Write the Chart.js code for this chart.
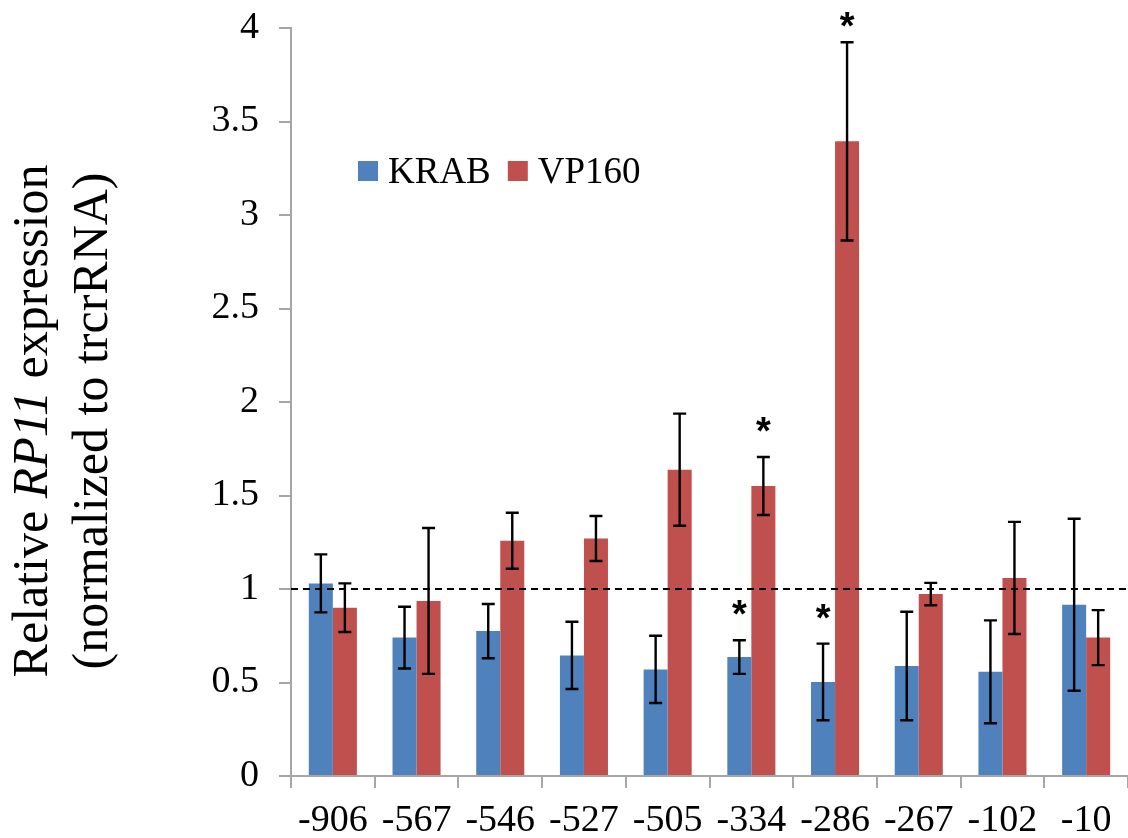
<!DOCTYPE html>
<html>
<head>
<meta charset="utf-8">
<script src="https://cdn.jsdelivr.net/npm/chart.js"></script>
<style>
  html, body { margin: 0; padding: 0; background: #fff; }
</style>
</head>
<body>
<canvas id="myChart" width="1128" height="838"></canvas>
<script>
// positions relative to TSS
const positions = ['-906', '-567', '-546', '-527', '-505', '-334', '-286', '-267', '-102', '-10'];
const krab = [1.03, 0.74, 0.775, 0.645, 0.57, 0.636, 0.503, 0.588, 0.557, 0.916];
const krabErr = [0.155, 0.165, 0.145, 0.18, 0.18, 0.09, 0.205, 0.29, 0.275, 0.46];
const vp160 = [0.90, 0.936, 1.258, 1.27, 1.638, 1.551, 3.394, 0.973, 1.059, 0.74];
const vp160Err = [0.13, 0.39, 0.15, 0.12, 0.30, 0.155, 0.53, 0.06, 0.30, 0.147];
const krabSig = [false, false, false, false, false, true, true, false, false, false];
const vp160Sig = [false, false, false, false, false, true, true, false, false, false];
const yTicks = [0, 0.5, 1, 1.5, 2, 2.5, 3, 3.5, 4];
const baseline = 1;

const blue = '#4F81BD';
const red = '#C0504D';
const axisGray = '#a6a6a6';
const serif = "'Liberation Serif', 'Times New Roman', serif";

const extras = {
    id: 'extras',
    afterDatasetsDraw(chart) {
        const ctx = chart.ctx;
        const y = chart.scales.y;
        const area = chart.chartArea;
        ctx.save();

        // dashed reference line
        ctx.strokeStyle = '#000';
        ctx.lineWidth = 2.2;
        ctx.setLineDash([7, 5]);
        ctx.beginPath();
        ctx.moveTo(area.left, y.getPixelForValue(baseline));
        ctx.lineTo(area.right, y.getPixelForValue(baseline));
        ctx.stroke();
        ctx.setLineDash([]);

        // error bars + asterisks
        const errs = [krabErr, vp160Err];
        const sigs = [krabSig, vp160Sig];
        ctx.lineWidth = 2.4;
        chart.data.datasets.forEach((ds, i) => {
            const meta = chart.getDatasetMeta(i);
            meta.data.forEach((bar, j) => {
                const v = ds.data[j], e = errs[i][j];
                const top = y.getPixelForValue(v + e);
                const bot = y.getPixelForValue(v - e);
                ctx.beginPath();
                ctx.moveTo(bar.x, top); ctx.lineTo(bar.x, bot);
                ctx.moveTo(bar.x - 6.5, top); ctx.lineTo(bar.x + 6.5, top);
                ctx.moveTo(bar.x - 6.5, bot); ctx.lineTo(bar.x + 6.5, bot);
                ctx.stroke();
                if (sigs[i][j]) {
                    ctx.fillStyle = '#000';
                    ctx.font = "bold 38px 'Liberation Sans', Arial, sans-serif";
                    ctx.textAlign = 'center';
                    ctx.textBaseline = 'alphabetic';
                    const cy = Math.max(top - 35, 17);
                    ctx.fillText('*', bar.x, cy + 22);
                }
            });
        });

        // legend
        let lx = area.left + 67;
        ctx.font = '37px ' + serif;
        ctx.textAlign = 'left';
        ctx.textBaseline = 'alphabetic';
        chart.data.datasets.forEach(ds => {
            ctx.fillStyle = ds.backgroundColor;
            ctx.fillRect(lx, 161, 20, 20);
            ctx.fillStyle = '#000';
            ctx.fillText(ds.label, lx + 30, 183);
            lx += 30 + ctx.measureText(ds.label).width + 17;
        });

        // y axis title (with italic gene name)
        const cy = 421;
        const size = 50;
        const parts = [['Relative ', 'normal'], ['RP11', 'italic'], [' expression', 'normal']];
        ctx.save();
        ctx.translate(47, cy);
        ctx.rotate(-Math.PI / 2);
        ctx.textBaseline = 'alphabetic';
        let total = 0;
        parts.forEach(p => { ctx.font = p[1] + ' ' + size + 'px ' + serif; total += ctx.measureText(p[0]).width; });
        let tx = -total / 2;
        parts.forEach(p => {
            ctx.font = p[1] + ' ' + size + 'px ' + serif;
            ctx.fillText(p[0], tx, 0);
            tx += ctx.measureText(p[0]).width;
        });
        ctx.restore();
        ctx.save();
        ctx.translate(107, cy);
        ctx.rotate(-Math.PI / 2);
        ctx.textAlign = 'center';
        ctx.textBaseline = 'alphabetic';
        ctx.font = size + 'px ' + serif;
        ctx.fillText('(normalized to trcrRNA)', 0, 0);
        ctx.restore();

        ctx.restore();
    }
};

const ctx = document.getElementById('myChart').getContext('2d');
const myChart = new Chart(ctx, {
    type: 'bar',
    data: {
        labels: positions,
        datasets: [{
            label: 'KRAB',
            data: krab,
            backgroundColor: blue,
            barPercentage: 1,
            categoryPercentage: 0.574
        }, {
            label: 'VP160',
            data: vp160,
            backgroundColor: red,
            barPercentage: 1,
            categoryPercentage: 0.574
        }]
    },
    options: {
        responsive: false,
        animation: false,
        devicePixelRatio: 1,
        layout: { padding: { top: 28, right: 0, left: 0, bottom: 0 } },
        plugins: {
            legend: { display: false },
            tooltip: { enabled: false }
        },
        scales: {
            x: {
                grid: { drawOnChartArea: false, tickLength: 12, color: axisGray, lineWidth: 2 },
                border: { color: axisGray, width: 2 },
                ticks: { color: '#000', padding: 10, maxRotation: 0, font: { family: serif, size: 38 } },
                afterFit(s) { s.height = 62; s.paddingLeft = 0; s.paddingRight = 0; }
            },
            y: {
                min: 0,
                max: 4,
                afterBuildTicks(s) { s.ticks = yTicks.map(v => ({ value: v })); },
                grid: { drawOnChartArea: false, tickLength: 12, color: axisGray, lineWidth: 2 },
                border: { color: axisGray, width: 2 },
                ticks: {
                    color: '#000', padding: 20, font: { family: serif, size: 38 },
                    callback: v => String(v)
                },
                afterFit(s) { s.width = 291; s.paddingTop = 0; s.paddingBottom = 0; }
            }
        }
    },
    plugins: [extras]
});
</script>
</body>
</html>
